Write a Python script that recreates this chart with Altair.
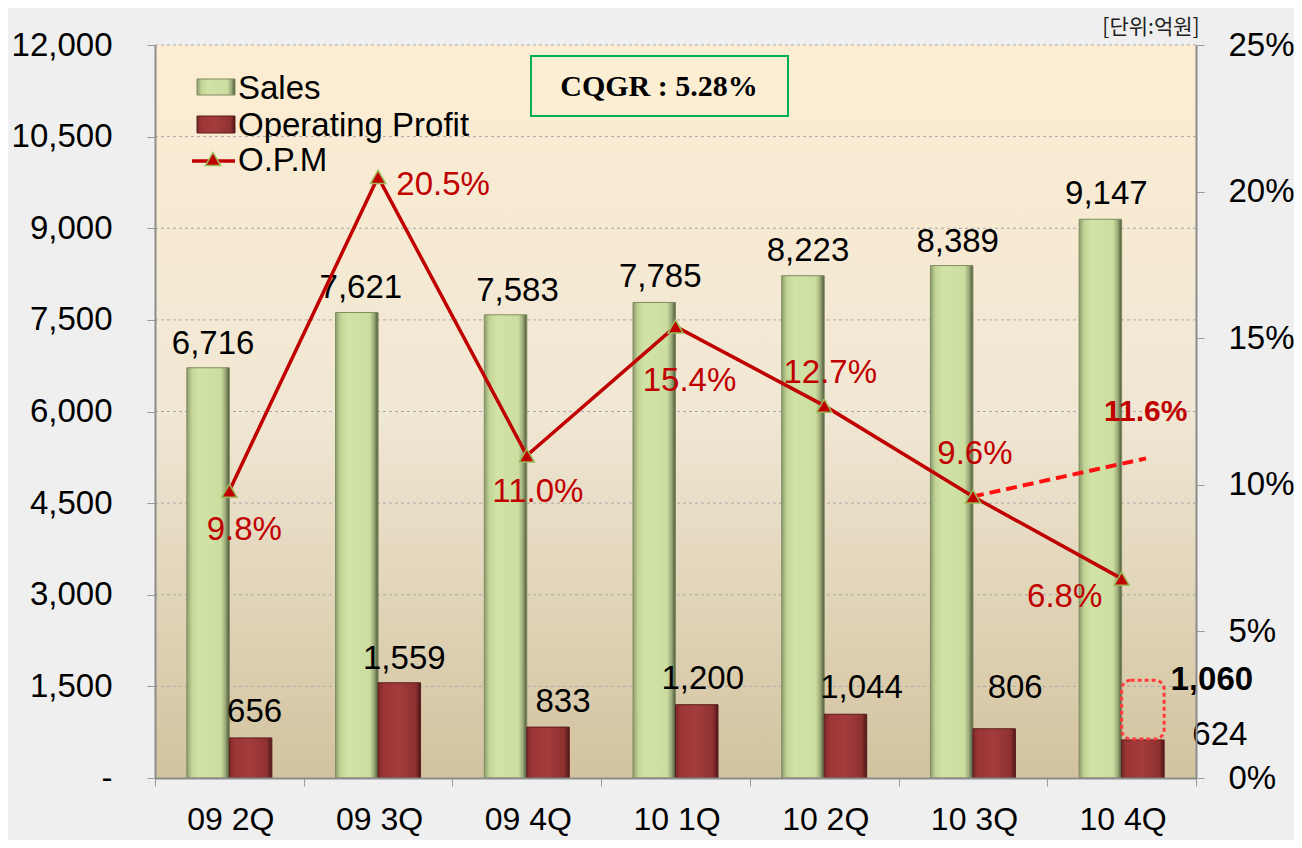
import altair as alt
import pandas as pd

quarters = ["09 2Q", "09 3Q", "09 4Q", "10 1Q", "10 2Q", "10 3Q", "10 4Q"]
sales = [6716, 7621, 7583, 7785, 8223, 8389, 9147]
profit = [656, 1559, 833, 1200, 1044, 806, 624]
opm = [9.8, 20.5, 11.0, 15.4, 12.7, 9.6, 6.8]
opm_target = [9.6, 10.9]
target_quarters = ["10 3Q", "10 4Q"]
target_label = "11.6%"
target_label_value = 11.6
target_profit = 1060
series = ["Sales", "Operating Profit"]
left_ticks = list(range(0, 12001, 1500))
right_ticks = [0, 5, 10, 15, 20, 25]

W, H = 1041, 733
FONT = "Liberation Sans"
FS = 33
RED = "#C00000"

sales_df = pd.DataFrame({"quarter": quarters, "series": "Sales", "value": sales})
profit_df = pd.DataFrame({"quarter": quarters, "series": "Operating Profit", "value": profit})
opm_df = pd.DataFrame({"quarter": quarters, "opm": opm})
opm_df["lbl"] = [f"{v:.1f}%" for v in opm]
target_df = pd.DataFrame({"quarter": [target_quarters[0]], "quarter_end": [target_quarters[1]],
                          "opm": [opm_target[0]], "opm2": [opm_target[1]]})
grid_df = pd.DataFrame({"value": left_ticks[1:]})
one = pd.DataFrame({"a": [0]})

xenc = alt.X("quarter:N", sort=quarters,
             scale=alt.Scale(paddingInner=0, paddingOuter=0),
             axis=alt.Axis(title=None, labelAngle=0, tickBand="extent", tickSize=8,
                           tickColor="#9A9A9A", domainColor="#8C8C8C", domainWidth=2,
                           labelFont=FONT, labelFontSize=32,
                           labelColor="#000000", labelPadding=18, labelOffset=1,
                           zindex=1))
xoff = alt.XOffset("series:N", sort=series,
                   scale=alt.Scale(domain=series, paddingInner=0, paddingOuter=0.75))

yleft = alt.Y("value:Q", scale=alt.Scale(domain=[0, 12000], nice=False),
              axis=alt.Axis(title=None, values=left_ticks,
                            labelExpr="datum.value == 0 ? '-' : format(datum.value, ',')",
                            grid=False, tickSize=8, tickColor="#9A9A9A",
                            domainColor="#8C8C8C", domainWidth=2, labelFont=FONT,
                            labelFontSize=FS, labelColor="#000000", labelPadding=35,
                            zindex=1))
yright = alt.Y("opm:Q", scale=alt.Scale(domain=[0, 25], nice=False),
               axis=alt.Axis(title=None, orient="right", values=right_ticks,
                             labelExpr="datum.value + '%'", grid=False, tickSize=8,
                             tickColor="#9A9A9A", domainColor="#8C8C8C", domainWidth=2,
                             labelFont=FONT, labelFontSize=FS, labelColor="#000000",
                             labelPadding=24, zindex=1))

green_grad = alt.Gradient(gradient="linear", x1=0, x2=1, y1=0, y2=0, stops=[
    alt.GradientStop(offset=0, color="#8E9C70"),
    alt.GradientStop(offset=0.12, color="#C2D595"),
    alt.GradientStop(offset=0.3, color="#D2E3A8"),
    alt.GradientStop(offset=0.8, color="#CCDDA0"),
    alt.GradientStop(offset=0.9, color="#9FAE7C"),
    alt.GradientStop(offset=1, color="#4C5639"),
])
red_grad = alt.Gradient(gradient="linear", x1=0, x2=1, y1=0, y2=0, stops=[
    alt.GradientStop(offset=0, color="#7A2828"),
    alt.GradientStop(offset=0.12, color="#9C3636"),
    alt.GradientStop(offset=0.5, color="#A33C3C"),
    alt.GradientStop(offset=0.88, color="#8E3131"),
    alt.GradientStop(offset=1, color="#4E1616"),
])
view_grad = alt.Gradient(gradient="linear", x1=0, x2=0, y1=0, y2=1, stops=[
    alt.GradientStop(offset=0, color="#FDEDD2"),
    alt.GradientStop(offset=0.5, color="#F0E7D4"),
    alt.GradientStop(offset=1, color="#D2C39F"),
])

deco = alt.Chart(one)
bg = deco.mark_rect(fill=view_grad).encode(
    x=alt.value(0), x2=alt.value(W), y=alt.value(0), y2=alt.value(H))
grid = alt.Chart(grid_df).mark_rule(color="#A8A8A8", strokeWidth=1, strokeDash=[3, 3]).encode(
    y=yleft, x=alt.value(0), x2=alt.value(W))

sales_bars = alt.Chart(sales_df).mark_bar(fill=green_grad, stroke="#7E8C5E",
                                          strokeWidth=1).encode(x=xenc, xOffset=xoff, y=yleft)
profit_bars = alt.Chart(profit_df).mark_bar(fill=red_grad, stroke="#5A1C1C",
                                            strokeWidth=1).encode(x=xenc, xOffset=xoff, y=yleft)

sales_dx = [5, 4, 12, 6, 5, 6, 6]
sales_dy = [-24, -24, -24, -25, -25, -24, -25]
profit_dx = [4, 5, 15, 6, 16, 21, 77]
profit_dy = [-26, -24, -25, -26, -26, -41, -5]

left_layers = [bg, grid, sales_bars, profit_bars]
for i in range(7):
    left_layers.append(
        alt.Chart(sales_df.iloc[[i]]).mark_text(font=FONT, fontSize=FS, color="#000000",
                                                dx=sales_dx[i], dy=sales_dy[i],
                                                baseline="middle")
        .encode(x=xenc, xOffset=xoff, y=yleft, text=alt.Text("value:Q", format=","))
    )
    left_layers.append(
        alt.Chart(profit_df.iloc[[i]]).mark_text(font=FONT, fontSize=FS, color="#000000",
                                                 dx=profit_dx[i], dy=profit_dy[i],
                                                 baseline="middle")
        .encode(x=xenc, xOffset=xoff, y=yleft, text=alt.Text("value:Q", format=","))
    )

# dashed highlight box above last profit bar, and its target value
box_df = pd.DataFrame({"quarter": ["10 4Q"], "series": ["Operating Profit"],
                       "value": [640], "value2": [1600]})
tp_df = pd.DataFrame({"quarter": ["10 4Q"], "series": ["Operating Profit"],
                      "value": [target_profit]})
left_layers.append(
    alt.Chart(box_df).mark_bar(fill="transparent", stroke="#FF3B3B", strokeWidth=3,
                               strokeDash=[4, 3], cornerRadius=9)
    .encode(x=xenc, xOffset=xoff, y=yleft, y2="value2:Q")
)
left_layers.append(
    alt.Chart(tp_df).mark_text(font=FONT, fontSize=FS, fontWeight="bold", color="#000000",
                               dx=69, dy=-33, baseline="middle")
    .encode(x=xenc, xOffset=xoff, y=yleft, text=alt.Text("value:Q", format=","))
)

# decorations (legend, CQGR box, unit)
left_layers += [
    deco.mark_rect(fill=green_grad, stroke="#7E8C5E").encode(
        x=alt.value(42), x2=alt.value(80), y=alt.value(34), y2=alt.value(50)),
    deco.mark_rect(fill=red_grad, stroke="#5A1C1C").encode(
        x=alt.value(42), x2=alt.value(80), y=alt.value(71), y2=alt.value(88)),
    deco.mark_rule(color=RED, strokeWidth=3.5).encode(
        x=alt.value(37), x2=alt.value(80), y=alt.value(116)),
    deco.mark_point(shape="triangle-up", filled=True, size=230, fill=RED, stroke="#9BBB59",
                    strokeWidth=1.5, opacity=1).encode(x=alt.value(58), y=alt.value(114)),
    deco.mark_text(text="Sales", font=FONT, fontSize=FS, align="left", baseline="middle",
                   color="#000000").encode(x=alt.value(83), y=alt.value(44)),
    deco.mark_text(text="Operating Profit", font=FONT, fontSize=FS, align="left",
                   baseline="middle", color="#000000").encode(x=alt.value(83), y=alt.value(81)),
    deco.mark_text(text="O.P.M", font=FONT, fontSize=FS, align="left", baseline="middle",
                   color="#000000").encode(x=alt.value(83), y=alt.value(116)),
    deco.mark_rect(fill="#FCEED3", stroke="#00B050", strokeWidth=2).encode(
        x=alt.value(376), x2=alt.value(633), y=alt.value(11), y2=alt.value(71)),
    deco.mark_text(text="CQGR : 5.28%", font="Liberation Serif", fontSize=30,
                   fontWeight="bold", color="#000000", baseline="middle").encode(
        x=alt.value(504), y=alt.value(42)),
    deco.mark_text(text="[단위:억원]", font="Noto Sans CJK KR", fontSize=21,
                   color="#222222", baseline="middle").encode(x=alt.value(996), y=alt.value(-17)),
]

# OPM layers
opm_line = alt.Chart(opm_df).mark_line(color=RED, strokeWidth=3.5).encode(x=xenc, y=yright)
target_line = alt.Chart(target_df).mark_rule(color="#FF1010", strokeWidth=4,
                                             strokeDash=[11, 6]).encode(
    x=xenc, x2=alt.X2("quarter_end:N", bandPosition=0.664), y=yright, y2="opm2:Q")
opm_pts = alt.Chart(opm_df).mark_point(shape="triangle-up", filled=True, size=230, fill=RED,
                                       stroke="#9BBB59", strokeWidth=1.5, opacity=1).encode(
    x=xenc, y=yright)

opm_dx = [15, 65, 11, 14, 6, 2, -57]
opm_dy = [39, 8, 37, 55, -33, -43, 18]
right_layers = [opm_line, target_line, opm_pts]
for i in range(7):
    right_layers.append(
        alt.Chart(opm_df.iloc[[i]]).mark_text(font=FONT, fontSize=FS, color=RED,
                                              dx=opm_dx[i], dy=opm_dy[i], baseline="middle")
        .encode(x=xenc, y=yright, text="lbl:N")
    )
tl_df = pd.DataFrame({"quarter": ["10 4Q"], "opm": [target_label_value], "lbl": [target_label]})
right_layers.append(
    alt.Chart(tl_df).mark_text(font=FONT, fontSize=30, fontWeight="bold", color=RED,
                               dx=24, dy=-26, baseline="middle")
    .encode(x=xenc, y=yright, text="lbl:N")
)

chart = alt.layer(alt.layer(*left_layers), alt.layer(*right_layers)).resolve_scale(
    y="independent"
).properties(
    width=W, height=H,
    padding={"left": 147, "top": 37, "right": 98, "bottom": 62},
    autosize=alt.AutoSizeParams(type="none"),
    background="#EFEFEF",
).configure_view(stroke=None)

chart.save("out.html", embed_options={"renderer": "svg", "actions": False})
